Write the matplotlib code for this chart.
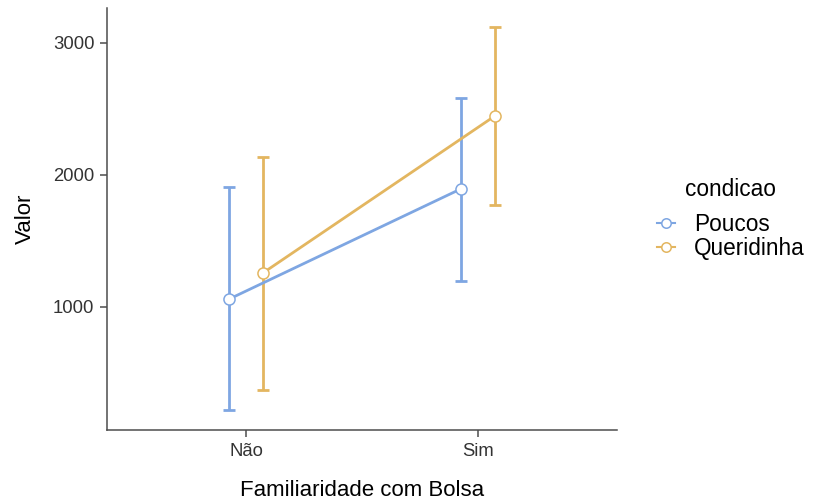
import matplotlib.pyplot as plt
import numpy as np

plt.rcParams['font.family'] = ['Liberation Sans', 'DejaVu Sans']

# data
categorias = ['Não', 'Sim']
grupos = ['Poucos', 'Queridinha']
media = {'Poucos': [1060, 1895], 'Queridinha': [1258, 2447]}
inferior = {'Poucos': [220, 1197], 'Queridinha': [371, 1773]}
superior = {'Poucos': [1909, 2583], 'Queridinha': [2136, 3121]}
cores = {'Poucos': '#7EA6E2', 'Queridinha': '#E3B660'}
dodge = {'Poucos': -0.073, 'Queridinha': 0.073}

fig = plt.figure(figsize=(8.16, 5.03), dpi=100)
ax = fig.add_axes([107 / 816, 73 / 503, 510 / 816, 422 / 503])

x = np.arange(1, len(categorias) + 1)
for g in grupos:
    xs = x + dodge[g]
    m = np.array(media[g])
    err = [m - np.array(inferior[g]), np.array(superior[g]) - m]
    ax.errorbar(xs, m, yerr=err, fmt='none', ecolor=cores[g], elinewidth=2,
                capsize=4, capthick=2, zorder=2)
    ax.plot(xs, m, color=cores[g], lw=2, marker='o', ms=8,
            mfc='white', mec=cores[g], mew=1.1, label=g, zorder=3)

ax.set_xlim(0.4, 2.6)
ax.set_ylim(68, 3265)
ax.set_xticks(x)
ax.set_xticklabels(categorias)
ax.set_yticks([1000, 2000, 3000])
ax.tick_params(colors='#4D4D4D', labelsize=13.3, length=5, width=1.1, pad=4)
ax.tick_params(axis='both', labelcolor='#333333')
for s in ['top', 'right']:
    ax.spines[s].set_visible(False)
for s in ['left', 'bottom']:
    ax.spines[s].set_color('#4D4D4D')
    ax.spines[s].set_linewidth(1.1)

ax.set_xlabel('Familiaridade com Bolsa', fontsize=16, labelpad=15)
ax.set_ylabel('Valor', fontsize=16, labelpad=12)

leg = ax.legend(title='condicao', loc='center left', bbox_to_anchor=(1.078, 0.5),
                frameon=False, fontsize=16.3, title_fontsize=16.3, handlelength=0.8,
                handletextpad=0.85, labelspacing=0.05, borderpad=0,
                borderaxespad=0, markerscale=0.85)
for h in leg.legend_handles:
    h.set_linewidth(1.5)
leg._legend_box.sep = 9

fig.savefig('out.png', dpi=100)
